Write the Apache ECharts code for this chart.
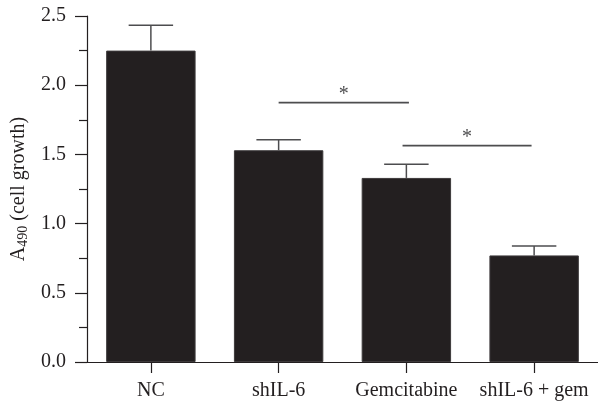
<!DOCTYPE html>
<html>
<head>
<meta charset="utf-8">
<script src="https://cdn.jsdelivr.net/npm/echarts@6/dist/echarts.min.js"></script>
<style>
html,body{margin:0;padding:0;background:#fff;}
#chart{width:598px;height:404px;}
</style>
</head>
<body>
<div id="chart"></div>
<script>
const categories = ['NC', 'shIL-6', 'Gemcitabine', 'shIL-6 + gem'];
const means = [2.25, 1.53, 1.33, 0.77];
const errors = [0.183, 0.075, 0.099, 0.068];
const yTicks = [0, 0.5, 1.0, 1.5, 2.0, 2.5];
// significance brackets: [xStart, xEnd, y] in category-index units
const sigStart = [1.0, 1.97];
const sigEnd = [2.02, 2.98];
const sigLevel = [1.874, 1.564];
const sigText = ['*', '*'];

const FONT = '"Liberation Serif", "DejaVu Serif", serif';
const INK = '#231f20';
const GREY = '#4d4d4f';

const chart = echarts.init(document.getElementById('chart'), null, {renderer: 'canvas'});

const option = {
  animation: false,
  backgroundColor: '#ffffff',
  grid: {left: 84.5, right: -3.6, top: 16, bottom: 42, containLabel: false},
  xAxis: [
    {
      type: 'category',
      data: categories,
      boundaryGap: true,
      axisLine: {show: true, lineStyle: {color: INK, width: 1.2}},
      axisTick: {show: true, alignWithLabel: true, length: 11, lineStyle: {color: INK, width: 1.2}},
      axisLabel: {color: INK, fontFamily: FONT, fontSize: 20, margin: 19, interval: 0, hideOverlap: false},
      splitLine: {show: false}
    },
    {
      type: 'value',
      min: -0.5, max: 3.5,
      show: false
    }
  ],
  yAxis: {
    type: 'value',
    min: yTicks[0],
    max: yTicks[yTicks.length - 1],
    interval: 0.5,
    axisLine: {show: true, onZero: false, lineStyle: {color: INK, width: 1.2}},
    axisTick: {show: true, length: 12, lineStyle: {color: INK, width: 1.2}},
    minorTick: {show: true, splitNumber: 2, length: 8, lineStyle: {color: INK, width: 1.2}},
    splitLine: {show: false},
    axisLabel: {
      color: INK, fontFamily: FONT, fontSize: 20, margin: 21,
      formatter: v => v.toFixed(1)
    },
    name: '{a|A}{s|490}{a| (cell growth)}',
    nameLocation: 'middle',
    nameGap: 57,
    nameRotate: 90,
    nameTextStyle: {
      color: INK, fontFamily: FONT, fontSize: 20,
      rich: {
        a: {fontFamily: FONT, fontSize: 20, color: INK, lineHeight: 22},
        s: {fontFamily: FONT, fontSize: 14, color: INK, lineHeight: 22, padding: [8, 0, 0, 0]}
      }
    }
  },
  series: [
    {
      type: 'bar',
      data: means,
      barWidth: '70%',
      itemStyle: {color: INK, borderColor: '#3d3a3b', borderWidth: 1},
      z: 2
    },
    {
      type: 'custom',
      data: categories.map((c, i) => [i, means[i], errors[i]]),
      encode: {x: 0, y: [1, 2]},
      z: 3,
      renderItem: function (params, api) {
        const i = api.value(0), m = api.value(1), e = api.value(2);
        const base = api.coord([i, m]);
        const top = api.coord([i, m + e]);
        const half = api.size([1, 0])[0] * 0.174;
        const st = {stroke: GREY, lineWidth: 1.5};
        return {
          type: 'group',
          children: [
            {type: 'line', shape: {x1: base[0], y1: base[1], x2: top[0], y2: top[1]}, style: st},
            {type: 'line', shape: {x1: top[0] - half, y1: top[1], x2: top[0] + half, y2: top[1]}, style: st}
          ]
        };
      }
    },
    {
      type: 'custom',
      xAxisIndex: 1,
      data: sigStart.map((s, k) => [s, sigEnd[k], sigLevel[k], sigText[k]]),
      encode: {x: [0, 1], y: 2},
      z: 4,
      renderItem: function (params, api) {
        const x0 = api.value(0), x1 = api.value(1), y = api.value(2);
        const p0 = api.coord([x0, y]);
        const p1 = api.coord([x1, y]);
        const txt = sigText[params.dataIndex];
        return {
          type: 'group',
          children: [
            {type: 'line', shape: {x1: p0[0], y1: p0[1], x2: p1[0], y2: p1[1]},
             style: {stroke: GREY, lineWidth: 1.8}},
            {type: 'text', x: (p0[0] + p1[0]) / 2, y: p0[1] - 8,
             style: {text: txt, fill: GREY, font: '20px ' + FONT, align: 'center', verticalAlign: 'middle'}}
          ]
        };
      }
    }
  ]
};
chart.setOption(option);
</script>
</body>
</html>
